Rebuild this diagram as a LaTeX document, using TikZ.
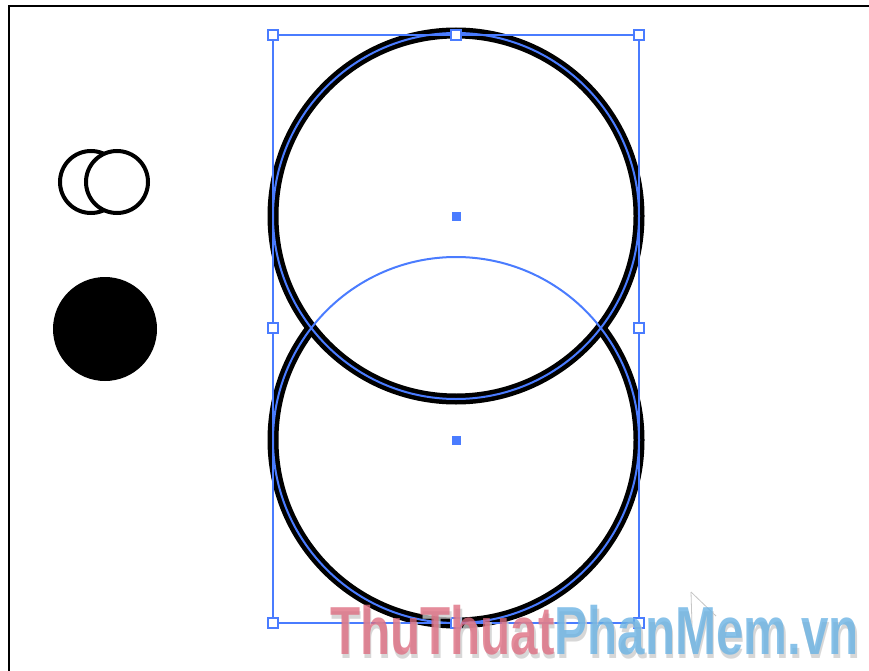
\documentclass[tikz,border=0pt]{standalone}
\usepackage{fontspec}
\setmainfont{Liberation Sans}
\definecolor{selblue}{RGB}{74,124,255}
\definecolor{wmpink}{RGB}{222,108,128}
\definecolor{wmblue}{RGB}{104,178,228}
\definecolor{wmshadow}{RGB}{205,205,205}
\tikzset{
  ring/.style={draw=black, line width=11pt, fill=white},
  selpath/.style={draw=selblue, line width=2pt},
  selbox/.style={draw=selblue, line width=1.3pt},
  handle/.style={draw=selblue, line width=1.4pt, fill=white, minimum size=10pt, inner sep=0pt, rectangle},
  centermark/.style={fill=selblue, minimum size=9pt, inner sep=0pt, rectangle},
  icon/.style={draw=black, line width=4pt, fill=white},
}
\newcommand{\wmtext}[2]{\textcolor{#1}{ThuThuat}\textcolor{#2}{PhanMem.vn}}
\begin{document}
\begin{tikzpicture}[x=1pt,y=-1pt]
\useasboundingbox (0,0) rectangle (869,671);
\fill[white] (0,0) rectangle (869,671);
% frame
\draw[line width=2.5pt, black] (9,671) -- (9,6) -- (869,6);
% circles
\coordinate (cu) at (456,216);
\coordinate (cl) at (456,440);
\draw[ring] (cl) circle[radius=183];
\draw[ring] (cu) circle[radius=183];
\draw[selpath] (cl) circle[radius=183];
\draw[selpath] (cu) circle[radius=183];
% selection box
\draw[selbox] (273,35) rectangle (639,623);
\node[handle] (h1) at (273,35) {};
\node[handle] (h2) at (456,35) {};
\node[handle] (h3) at (639,35) {};
\node[handle] (h4) at (273,328) {};
\node[handle] (h5) at (639,328) {};
\node[handle] (h6) at (273,623) {};
\node[handle] (h7) at (456,623) {};
\node[handle] (h8) at (639,623) {};
\node[centermark] (m1) at (cu) {};
\node[centermark] (m2) at (cl) {};
% left icons
\draw[icon] (91,182) circle[radius=31];
\draw[icon] (117,182) circle[radius=31];
\fill[black] (105,329) circle[radius=52];
% cursor (faint)
\draw[gray!45, line width=0.8pt] (691,592) -- (692,626);
\draw[gray!45, line width=0.8pt] (691,592) -- (716,616);
% watermark with shadow in one node
\node[anchor=base west, inner sep=0pt, text opacity=0.78] (wm) at (330,654)
  {\scalebox{0.725}[1]{\fontsize{68}{68}\selectfont\bfseries
   \makebox[0pt][l]{\hspace{2pt}\raisebox{-4pt}{\wmtext{wmshadow}{wmshadow}}}%
   \wmtext{wmpink}{wmblue}}};
\end{tikzpicture}
\end{document}
